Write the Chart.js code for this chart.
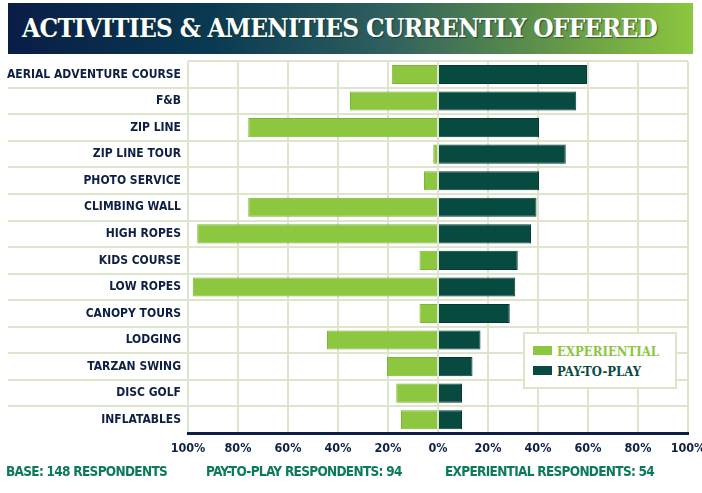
<!DOCTYPE html>
<html>
<head>
<meta charset="utf-8">
<script src="https://cdn.jsdelivr.net/npm/chart.js@4"></script>
<style>
  body { margin: 0; background: #fff; }
  .page { position: relative; width: 702px; height: 493px; overflow: hidden; }
  .banner {
    position: absolute; left: 8px; top: 3px; width: 685px; height: 51px;
    background: linear-gradient(90deg, #0a1d47 0%, #093a52 30%, #2f5f5e 55%, #5f9249 78%, #8dc63f 100%);
  }
  .banner h1 {
    margin: 0; position: absolute; left: 14px; top: 10px;
    font-family: "DejaVu Serif Condensed", "DejaVu Serif", serif; font-weight: bold;
    font-size: 26px; letter-spacing: -0.7px; color: #fff; white-space: nowrap;
    text-shadow: 1px 1px 1px rgba(10, 50, 40, 0.7);
  }
  .chartWrap { position: absolute; left: 0; top: 47px; width: 716px; height: 419px; }
  .legend {
    position: absolute; left: 523px; top: 332px; width: 150px; height: 53px;
    background: #fff; border: 2px solid #dde6cc;
    font-family: "DejaVu Serif Condensed", "DejaVu Serif", serif; font-weight: bold; font-size: 13px;
  }
  .legend div { position: absolute; left: 8px; white-space: nowrap; line-height: 16px; }
  .legend span { display: inline-block; width: 19px; height: 9px; margin-right: 5px; vertical-align: 1px; }
  .foot {
    position: absolute; top: 463px; white-space: nowrap;
    font-family: "DejaVu Sans Condensed", sans-serif; font-weight: bold;
    font-size: 13.5px; letter-spacing: -0.7px; color: #0b7a5c;
  }
</style>
</head>
<body>
<div class="page">
  <div class="banner"><h1>ACTIVITIES &amp; AMENITIES CURRENTLY OFFERED</h1></div>
  <div class="chartWrap"><canvas id="myChart"></canvas></div>
  <div class="legend">
    <div style="top:10px; color:#8dc63f;"><span style="background:#8dc63f;"></span>EXPERIENTIAL</div>
    <div style="top:30px; color:#0a4a3e;"><span style="background:#074a40;"></span>PAY-TO-PLAY</div>
  </div>
  <div class="foot" style="left:6px;">BASE: 148 RESPONDENTS</div>
  <div class="foot" style="left:206px;">PAY-TO-PLAY RESPONDENTS: 94</div>
  <div class="foot" style="left:445px;">EXPERIENTIAL RESPONDENTS: 54</div>
</div>

<script>
// data (percent of respondents)
const categories = ['AERIAL ADVENTURE COURSE', 'F&B', 'ZIP LINE', 'ZIP LINE TOUR', 'PHOTO SERVICE',
  'CLIMBING WALL', 'HIGH ROPES', 'KIDS COURSE', 'LOW ROPES', 'CANOPY TOURS', 'LODGING',
  'TARZAN SWING', 'DISC GOLF', 'INFLATABLES'];
const experiential = [18.5, 35.2, 75.9, 1.9, 5.6, 75.9, 96.3, 7.4, 98.1, 7.4, 44.4, 20.4, 16.7, 14.8];
const payToPlay = [59.6, 55.3, 40.4, 51.1, 40.4, 39.4, 37.2, 31.9, 30.9, 28.7, 17.0, 13.8, 9.6, 9.6];
const xTicks = [-100, -80, -60, -40, -20, 0, 20, 40, 60, 80, 100];

const gridColor = '#dde6cc';
const labelFont = { family: '"DejaVu Sans Condensed", sans-serif', weight: 'bold', size: 12 };

// horizontal grid lines also run under the category labels
const rowLines = {
  id: 'rowLines',
  beforeDatasetsDraw(chart) {
    const ctx = chart.ctx;
    const y = chart.scales.y;
    ctx.save();
    ctx.strokeStyle = gridColor;
    ctx.lineWidth = 2;
    for (let i = 1; i < categories.length; i++) {
      const py = Math.round(y.getPixelForValue(i - 0.5));
      ctx.beginPath();
      ctx.moveTo(8, py);
      ctx.lineTo(chart.chartArea.left, py);
      ctx.stroke();
    }
    ctx.restore();
  }
};

const ctx = document.getElementById('myChart');
new Chart(ctx, {
  type: 'bar',
  data: {
    labels: categories,
    datasets: [{
      label: 'EXPERIENTIAL',
      data: experiential.map(v => -v),
      backgroundColor: '#8dc63f',
      borderColor: '#7bb634',
      borderWidth: 1,
      barPercentage: 0.72,
      categoryPercentage: 1
    },
    {
      label: 'PAY-TO-PLAY',
      data: payToPlay,
      backgroundColor: '#074a40',
      borderColor: '#053a32',
      borderWidth: 1,
      barPercentage: 0.72,
      categoryPercentage: 1
    }]
  },
  options: {
    indexAxis: 'y',
    responsive: true,
    maintainAspectRatio: false,
    animation: false,
    layout: { padding: { top: 0, right: 28, bottom: 3, left: 0 } },
    scales: {
      x: {
        stacked: true,
        min: -100,
        max: 100,
        afterBuildTicks(scale) { scale.ticks = xTicks.map(v => ({ value: v })); },
        afterFit(scale) { scale.height = 30; },
        grid: { color: gridColor, lineWidth: 2, drawTicks: false },
        border: { color: '#0d1f45', width: 3 },
        ticks: {
          color: '#0d1f45',
          font: { family: labelFont.family, weight: 'bold', size: 12.5 },
          padding: 8,
          maxRotation: 0,
          callback: v => Math.abs(v) + '%'
        }
      },
      y: {
        stacked: true,
        afterFit(scale) { scale.width = 188; },
        grid: { color: gridColor, lineWidth: 2, drawTicks: false },
        border: { display: false },
        ticks: { color: '#0d1f45', font: labelFont, padding: 7 }
      }
    },
    plugins: {
      legend: { display: false },
      tooltip: { enabled: false }
    }
  },
  plugins: [rowLines]
});
</script>
</body>
</html>
